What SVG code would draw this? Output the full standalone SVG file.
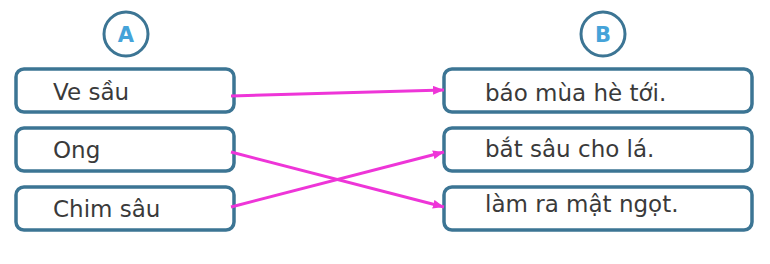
<svg xmlns="http://www.w3.org/2000/svg" width="770" height="264" viewBox="0 0 770 264">
<defs>
<style>
.box{fill:#fff;stroke:#3c7594;stroke-width:3.5}
.circ{fill:#fff;stroke:#3c7594;stroke-width:3}
.hd{font-family:"DejaVu Sans",sans-serif;font-weight:bold;font-size:21px;fill:#45a3d9;text-anchor:middle}
.t{font-family:"DejaVu Sans",sans-serif;font-size:23px;fill:#3a3a3a}
.ln{stroke:#ee35d8;stroke-width:3;fill:none}
</style>
<marker id="ah" viewBox="0 0 11 9" refX="11" refY="4.5" markerWidth="11" markerHeight="9" markerUnits="userSpaceOnUse" orient="auto">
<path d="M0,0 L11,4.5 L0,9 Z" fill="#ee35d8"/>
</marker>
</defs>
<rect width="770" height="264" fill="#fff"/>
<g id="headA"><circle class="circ" cx="126" cy="34" r="22"/><text class="hd" x="126" y="41.5">A</text></g>
<g id="headB"><circle class="circ" cx="603" cy="34" r="22"/><text class="hd" x="603" y="41.5">B</text></g>
<g id="a1"><rect class="box" x="16" y="69" width="218" height="43" rx="8"/><text class="t" x="53" y="100">Ve sầu</text></g>
<g id="a2"><rect class="box" x="16" y="128" width="218" height="43" rx="8"/><text class="t" x="53" y="158">Ong</text></g>
<g id="a3"><rect class="box" x="16" y="187" width="218" height="43" rx="8"/><text class="t" x="53" y="217">Chim sâu</text></g>
<g id="b1"><rect class="box" x="444" y="69" width="308" height="43" rx="8"/><text class="t" x="485" y="101">báo mùa hè tới.</text></g>
<g id="b2"><rect class="box" x="444" y="128" width="308" height="43" rx="8"/><text class="t" x="485" y="157">bắt sâu cho lá.</text></g>
<g id="b3"><rect class="box" x="444" y="187" width="308" height="43" rx="8"/><text class="t" x="485" y="212">làm ra mật ngọt.</text></g>
<g id="connectors">
<line class="ln" x1="231" y1="96" x2="444" y2="90" marker-end="url(#ah)"/>
<line class="ln" x1="231" y1="152" x2="444" y2="207" marker-end="url(#ah)"/>
<line class="ln" x1="231" y1="207" x2="444" y2="152" marker-end="url(#ah)"/>
</g>
</svg>
